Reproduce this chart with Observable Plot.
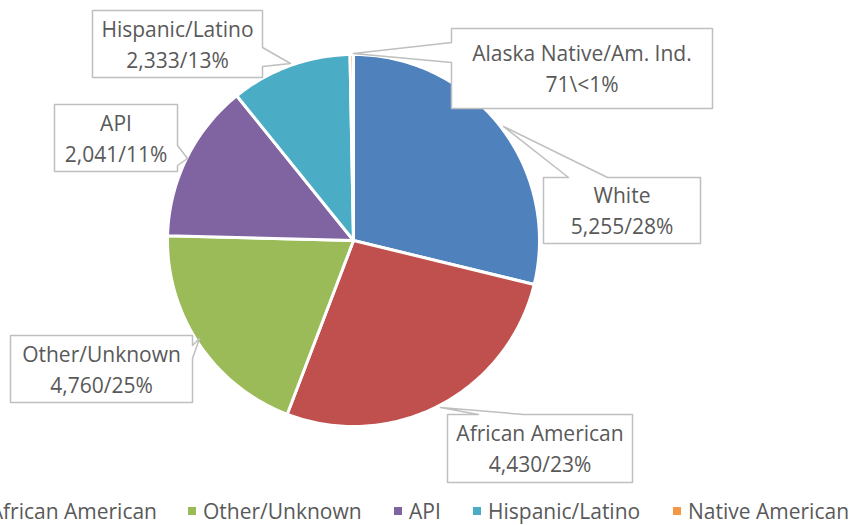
<!DOCTYPE html>
<html>
<head>
<meta charset="utf-8">
<script src="https://cdn.jsdelivr.net/npm/d3@7"></script>
<script src="https://cdn.jsdelivr.net/npm/@observablehq/plot@0.6"></script>
<style>
  html, body { margin: 0; padding: 0; background: #ffffff; }
  #wrap { position: relative; width: 855px; height: 525px; overflow: hidden; font-family: "Open Sans", sans-serif; }
  #chart { position: absolute; left: 0; top: 0; }
  #legend { position: absolute; left: 0; top: 497px; width: 855px; height: 28px; overflow: hidden; color: #595959; font-size: 21px; }
  .lg-group { position: absolute; top: 0; display: flex; align-items: center; gap: 30px; white-space: nowrap; }
  .lg-item { display: flex; align-items: center; white-space: nowrap; line-height: 28px; }
  .lg-sw { width: 8px; height: 8px; margin-right: 7px; flex: none; }
</style>
</head>
<body>
<div id="wrap">
  <div id="chart"></div>
  <div id="legend"></div>
</div>
<script>
// ---- data ----
const categories = ["White", "African American", "Other/Unknown", "API", "Hispanic/Latino", "Native American"];
// slice shares (%) as drawn in the picture
const sliceShares = [28.8, 27.0, 19.6, 13.8, 10.5, 0.3];
// counts and percentages as printed in the data labels
const labelCounts = [5255, 4430, 4760, 2041, 2333, 71];
const calloutNames = ["White", "African American", "Other/Unknown", "API", "Hispanic/Latino", "Alaska Native/Am. Ind."];
const pctLabels = ["28%", "23%", "25%", "11%", "13%", "<1%"];
const separators = ["/", "/", "/", "/", "/", "\\"];

// ---- styles / layout ----
const colors = ["#4F81BD", "#C0504D", "#9BBB59", "#8064A2", "#4BACC6", "#F79646"];
const W = 855, H = 490;
const center = [353, 240];
const radius = 186;
const calloutLayout = [
  {x0: 543, y0: 177, x1: 700, y1: 243, side: "top",   a: 568, b: 607, tip: [503, 126]},
  {x0: 447, y0: 414, x1: 632, y1: 482, side: "top",   a: 478, b: 523, tip: [440, 407]},
  {x0: 10,  y0: 335, x1: 192, y1: 402, side: "right", a: 345, b: 358, tip: [199, 338]},
  {x0: 54,  y0: 104, x1: 177, y1: 171, side: "right", a: 145, b: 165, tip: [187, 158]},
  {x0: 92,  y0: 10,  x1: 262, y1: 77,  side: "right", a: 47,  b: 66,  tip: [290, 63]},
  {x0: 451, y0: 28,  x1: 712, y1: 108, side: "left",  a: 42,  b: 62,  tip: [353, 53]}
];
const legendRightEnd = 157;             // right edge of the left (overflowing) group
const legendLefts = [null, null, 188, 394, 473, 673];
const fontFamily = "Open Sans";
const fontSize = 21;
const textColor = "#595959";

// ---- build pie geometry from data ----
const rows = categories.map((name, i) => ({name, value: sliceShares[i], i}));
const arcs = d3.pie().sort(null).value(d => d.value)(rows);
const slicePts = [];
for (const arc of arcs) {
  const name = arc.data.name;
  slicePts.push({name, x: center[0], y: center[1]});
  const n = Math.max(2, Math.ceil((arc.endAngle - arc.startAngle) / (Math.PI / 180)));
  for (let k = 0; k <= n; k++) {
    const a = arc.startAngle + (arc.endAngle - arc.startAngle) * k / n;
    slicePts.push({name, x: center[0] + radius * Math.sin(a), y: center[1] - radius * Math.cos(a)});
  }
}

// ---- callouts ----
const fmt = d3.format(",");
const calloutPts = [];
const calloutText = [];
calloutLayout.forEach((L, i) => {
  const id = calloutNames[i];
  const pts = [[L.x0, L.y0]];
  if (L.side === "top") pts.push([L.a, L.y0], L.tip, [L.b, L.y0]);
  pts.push([L.x1, L.y0]);
  if (L.side === "right") pts.push([L.x1, L.a], L.tip, [L.x1, L.b]);
  pts.push([L.x1, L.y1]);
  pts.push([L.x0, L.y1]);
  if (L.side === "left") pts.push([L.x0, L.b], L.tip, [L.x0, L.a]);
  pts.forEach(([x, y]) => calloutPts.push({id, x, y}));
  calloutText.push({
    x: (L.x0 + L.x1) / 2,
    y: (L.y0 + L.y1) / 2,
    text: `${id}\n${fmt(labelCounts[i])}${separators[i]}${pctLabels[i]}`
  });
});

const chart = Plot.plot({
  width: W,
  height: H,
  margin: 0,
  style: {background: "white", overflow: "visible"},
  x: {domain: [0, W], range: [0, W], axis: null},
  y: {domain: [0, H], range: [0, H], axis: null},
  color: {domain: categories, range: colors},
  marks: [
    Plot.line(slicePts, {x: "x", y: "y", z: "name", fill: "name", stroke: "white", strokeWidth: 3, strokeLinejoin: "round", curve: "linear-closed"}),
    Plot.line(calloutPts, {x: "x", y: "y", z: "id", fill: "white", stroke: "#BFBFBF", strokeWidth: 1.5, curve: "linear-closed"}),
    Plot.text(calloutText, {x: "x", y: "y", dy: -1.5, text: "text", lineHeight: 1.47, fontSize, fontFamily, fill: textColor, lineAnchor: "middle"})
  ]
});
document.getElementById("chart").appendChild(chart);

// ---- legend ----
const legend = document.getElementById("legend");
function makeItem(i) {
  const item = document.createElement("div");
  item.className = "lg-item";
  const sw = document.createElement("span");
  sw.className = "lg-sw";
  sw.style.background = colors[i];
  const tx = document.createElement("span");
  tx.textContent = categories[i];
  item.append(sw, tx);
  return item;
}
const leftGroup = document.createElement("div");
leftGroup.className = "lg-group";
leftGroup.style.right = (W - legendRightEnd) + "px";
leftGroup.append(makeItem(0), makeItem(1));
legend.appendChild(leftGroup);
for (let i = 2; i < categories.length; i++) {
  const g = document.createElement("div");
  g.className = "lg-group";
  g.style.left = legendLefts[i] + "px";
  g.append(makeItem(i));
  legend.appendChild(g);
}
</script>
</body>
</html>
